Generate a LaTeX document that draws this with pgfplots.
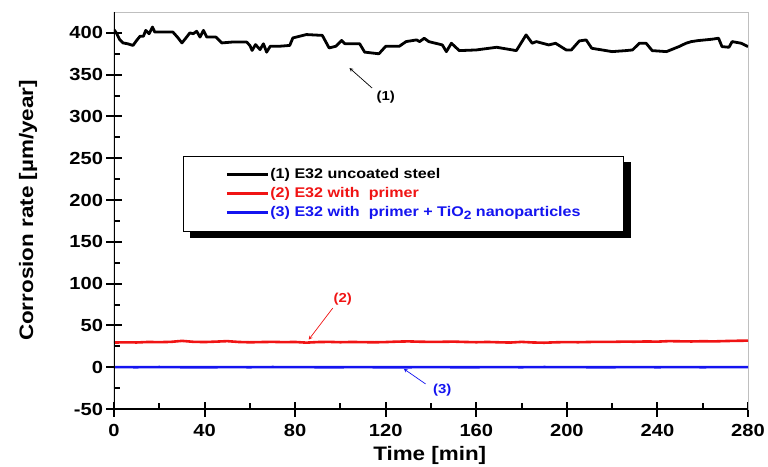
\documentclass[border=0pt]{standalone}
\usepackage{pgfplots}
\pgfplotsset{compat=1.18}
\usepackage{fontspec}
\setmainfont{Liberation Sans}[FakeStretch=1.15]
\definecolor{myred}{RGB}{240,20,20}
\definecolor{myblue}{RGB}{20,20,240}
\pgfdeclarelayer{background}
\pgfsetlayers{background,main}
\begin{document}
\begin{tikzpicture}[x=1pt,y=1pt]
\useasboundingbox (-114pt,-57pt) rectangle (654pt,409pt);
\begin{axis}[
  at={(0,0)}, anchor=south west,
  scale only axis, width=634pt, height=397pt,
  xmin=0, xmax=280, ymin=-50, ymax=425,
  xtick={0,40,...,280}, minor x tick num=1,
  ytick={-50,0,...,400}, minor y tick num=1,
  xtick pos=left, ytick pos=left,
  tick align=center,
  major tick length=15pt, minor tick length=6pt,
  every tick/.style={black, line width=2pt},
  minor x tick style={yshift=3pt},
  minor y tick style={xshift=3pt},
  axis line style={black!25, line width=0.6pt},
  tick label style={font=\fontsize{17.5}{20}\selectfont\bfseries},
  xticklabel style={yshift=-4pt},
  /pgf/number format/assume math mode=true,
  xlabel={Time [min]}, ylabel={Corrosion rate [µm/year]},
  label style={font=\fontsize{19.5}{22}\selectfont\bfseries},
  xlabel style={at={(axis description cs:0.498,-0.118)}, anchor=center},
  ylabel style={at={(axis description cs:-0.1356,0.5)}, anchor=center},
  legend cell align=left,
  legend image code/.code={\draw[#1, line width=3pt] (0pt,0pt) -- (41pt,0pt);},
  legend style={name=leg, at={(rel axis cs:0.1088,0.6373)}, anchor=north west,
    draw=black, line width=0.8pt, fill=white,
    inner xsep=42pt, inner ysep=9pt,
    nodes={font=\fontsize{14}{16}\selectfont\bfseries, text height=10pt, text depth=3pt, inner ysep=3pt, inner xsep=1pt}},
]
\addplot[black, line width=2.8pt, line join=round] coordinates {
(0,404) (1,400) (2.5,392) (4,388) (6,387) (8.4,385) (10,391) (11.5,396) (13,396) (14,403) (15.5,399) (17,407) (18,401) (22,401) (26,401) (28,395) (30,388) (31.5,393) (33.5,400) (35,399) (36.5,402) (38,395) (39.5,403) (41,395) (45,395) (47.6,388) (52,389) (58.6,389) (60,385) (61,379) (62.5,386) (64.5,380) (66,387) (67.4,377) (69,384) (73,384) (77.6,385) (79,394) (85,398) (92,397) (95,382) (98,384) (100.5,391) (102,387) (108.5,387) (110.7,377) (117,375) (120,384) (126,384) (129,389.6) (133.6,391.6) (135,389.6) (137,393.6) (139,389.6) (145,385.6) (146.8,377.6) (149,387.6) (152.5,378.8) (160,379.6) (169,382.8) (177.7,378.8) (182,397.6) (184.7,387.6) (186.5,389.6) (192,385.6) (195,387.6) (199.7,379.6) (202,379.6) (205.5,390.4) (208.5,391.6) (211,381.6) (220,377.6) (226,378.8) (229,379.6) (232,387.6) (235,387.6) (237.7,378.8) (244,377.6) (249.5,383.6) (252.6,387.6) (255,389.6) (258,390.8) (264,392.4) (267,393.6) (268.5,383.6) (271.6,382.8) (273,389.6) (277,387.6) (280,383.6)
};
\addlegendentry{(1) E32 uncoated steel}
\addplot[myred, line width=2.6pt] coordinates {
(0,29.5) (5,29.8) (10,29.6) (15,30.2) (20,30.0) (25,30.3) (30,31.5) (35,30.4) (40,30.1) (45,30.6) (50,31.2) (55,30.2) (60,29.8) (65,30.1) (70,30.3) (75,30.0) (80,30.2) (85,29.4) (90,30.1) (95,30.3) (100,29.9) (105,30.2) (110,30.0) (115,29.8) (120,30.1) (125,30.6) (130,30.9) (135,30.5) (140,30.3) (145,30.4) (150,30.6) (155,30.2) (160,29.9) (165,30.2) (170,29.8) (175,29.5) (180,30.3) (185,29.6) (190,29.3) (195,29.8) (200,30.1) (205,29.9) (210,30.2) (215,30.4) (220,30.3) (225,30.6) (230,30.5) (235,30.8) (240,30.6) (245,31.2) (250,31.0) (255,30.8) (260,31.1) (265,30.9) (270,31.3) (275,31.6) (280,31.8)
};
\addlegendentry{\textcolor{myred}{(2) E32 with\ \ primer}}
\addplot[myblue, line width=2.6pt] coordinates {
(0,0.1) (10,0.0) (20,0.2) (30,0.0) (40,-0.1) (50,0.1) (60,0.0) (70,0.2) (80,0.1) (90,0.0) (100,0.0) (110,0.1) (120,-0.1) (130,0.0) (140,0.1) (150,0.0) (160,0.0) (170,0.1) (180,0.0) (190,0.2) (200,0.1) (210,0.0) (220,0.0) (230,0.1) (240,0.0) (250,0.1) (260,0.0) (270,0.1) (280,0.1)
};
\addlegendentry{\textcolor{myblue}{(3) E32 with\ \ primer + TiO\raisebox{-3.5pt}{\fontsize{12}{12}\selectfont 2} nanoparticles}}
\draw[black, line width=2.6pt] (rel axis cs:0,1) -- (rel axis cs:0,0) -- (rel axis cs:1,0);
\draw[black, line width=0.7pt, -stealth] (axis cs:114,334) -- (axis cs:104,358);
\node[font=\fontsize{13}{15}\selectfont\bfseries] at (axis cs:120,323) {(1)};
\draw[myred, line width=0.7pt, -stealth] (axis cs:96.6,70.7) -- (axis cs:86,33);
\node[myred, font=\fontsize{13}{15}\selectfont\bfseries] at (axis cs:101,82) {(2)};
\draw[myblue, line width=0.7pt, -stealth] (axis cs:137.6,-20) -- (axis cs:128,-2);
\node[myblue, font=\fontsize{13}{15}\selectfont\bfseries] at (axis cs:145,-27.5) {(3)};
\end{axis}
\begin{pgfonlayer}{background}
\fill[black] ([xshift=7pt,yshift=-6pt]leg.south west) rectangle ([xshift=7pt,yshift=-6pt]leg.north east);
\end{pgfonlayer}
\end{tikzpicture}
\end{document}
